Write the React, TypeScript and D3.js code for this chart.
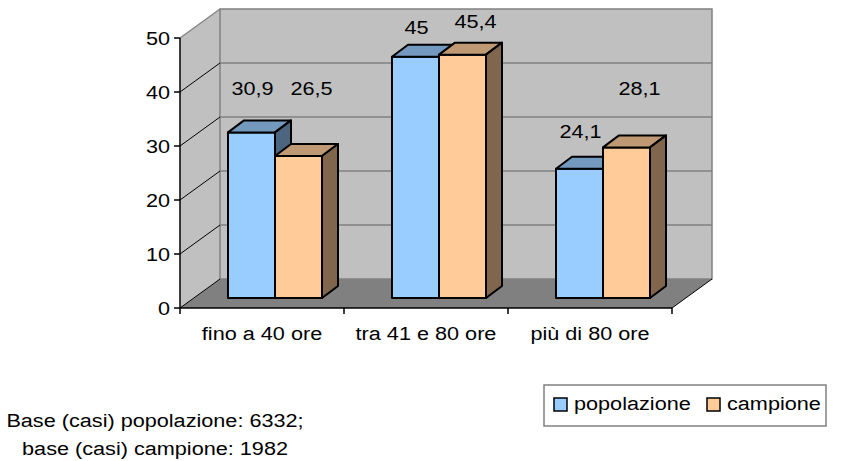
import React from "react";
import * as d3 from "d3";

const categories = ["fino a 40 ore", "tra 41 e 80 ore", "più di 80 ore"];
const seriesNames = ["popolazione", "campione"];
const popolazione = [30.9, 45, 24.1];
const campione = [26.5, 45.4, 28.1];
const labelTexts = [["30,9", "45", "24,1"], ["26,5", "45,4", "28,1"]];
// height (in axis units) at which the spreadsheet placed each data label
const labelLevelPop = [40.7, 51.9, 32.6];
const labelLevelCamp = [40.7, 53.0, 40.6];
const yTicks = [0, 10, 20, 30, 40, 50];
const footnote = ["Base (casi) popolazione: 6332;", "base (casi) campione: 1982"];

const W = 842, H = 461;
const FONT = "'Liberation Sans', Arial, sans-serif";
const FS = 19;
const SX = 1.14;

const fronts = ["#99CCFF", "#FFCC99"];
const tops = ["#7399BF", "#BF9973"];
const sides = ["#4C667F", "#7F664C"];

function T({ x, y, anchor = "middle", children, baseline }: any) {
  return (
    <text
      transform={`translate(${x},${y}) scale(${SX},1)`}
      textAnchor={anchor}
      dominantBaseline={baseline}
      fontFamily={FONT}
      fontSize={FS}
      fill="#000"
    >
      {children}
    </text>
  );
}

export default function App() {
  const left = 180, right = 672, floorY = 308, topY = 38;
  const dX = 40, dY = -29; // wall depth
  const y = d3.scaleLinear().domain([0, 50]).range([floorY, topY]);
  const x0 = d3.scaleBand().domain(categories).range([left, right]);
  const x1 = d3.scaleBand().domain(seriesNames).range([35, 129]);
  const ox = 13, oy = -10; // bar row depth
  const bdx = 16, bdy = -12; // bar depth
  const yBar = d3.scaleLinear().domain([0, 50]).range([floorY + oy, floorY + oy - 268]);
  const values = [popolazione, campione];
  const levels = [labelLevelPop, labelLevelCamp];
  const pts = (a: number[][]) => a.map((p) => p.join(",")).join(" ");

  return (
    <svg width={W} height={H} style={{ position: "absolute", left: 0, top: 0, background: "#fff" }}>
      {/* side wall */}
      <polygon points={pts([[left, topY], [left + dX, topY + dY], [left + dX, floorY + dY], [left, floorY]])} fill="#C0C0C0" />
      {/* back wall */}
      <rect x={left + dX} y={topY + dY} width={right - left} height={floorY - topY} fill="#C0C0C0" stroke="#808080" strokeWidth={1.5} />
      {/* gridlines */}
      {yTicks.slice(1, -1).map((t) => (
        <g key={t}>
          <line x1={left + dX} x2={right + dX} y1={y(t) + dY} y2={y(t) + dY} stroke="#808080" strokeWidth={1.5} />
          <line x1={left} x2={left + dX} y1={y(t)} y2={y(t) + dY} stroke="#000" strokeWidth={1} />
        </g>
      ))}
      <line x1={left} x2={left + dX} y1={topY} y2={topY + dY} stroke="#808080" strokeWidth={1.2} />
      {/* floor */}
      <polygon points={pts([[left, floorY], [right, floorY], [right + dX, floorY + dY], [left + dX, floorY + dY]])} fill="#808080" />
      <line x1={left} x2={left + dX} y1={floorY} y2={floorY + dY} stroke="#000" strokeWidth={1} />
      <line x1={right} x2={right + dX} y1={floorY} y2={floorY + dY} stroke="#000" strokeWidth={1} />
      {/* bars */}
      {categories.map((c, ci) => (
        <g key={c}>
          {seriesNames.map((s, si) => {
            const xa = (x0(c) as number) + (x1(s) as number) + ox;
            const w = x1.bandwidth();
            const yt = yBar(values[si][ci]);
            const yb = yBar(0);
            return (
              <g key={s} stroke="#000" strokeWidth={2} strokeLinejoin="round">
                <rect x={xa} y={yt} width={w} height={yb - yt} fill={fronts[si]} />
                <polygon points={pts([[xa, yt], [xa + bdx, yt + bdy], [xa + w + bdx, yt + bdy], [xa + w, yt]])} fill={tops[si]} />
                <polygon points={pts([[xa + w, yt], [xa + w + bdx, yt + bdy], [xa + w + bdx, yb + bdy], [xa + w, yb]])} fill={sides[si]} />
              </g>
            );
          })}
        </g>
      ))}
      {/* data labels */}
      {categories.map((c, ci) =>
        seriesNames.map((s, si) => {
          const xa = (x0(c) as number) + (x1(s) as number) + ox + x1.bandwidth() / 2 + (si === 0 ? 1 : 13);
          return (
            <T key={c + s} x={xa} y={y(levels[si][ci])} baseline="central">
              {labelTexts[si][ci]}
            </T>
          );
        })
      )}
      {/* axes */}
      <line x1={left} x2={left} y1={topY} y2={floorY} stroke="#000" strokeWidth={1.5} />
      <line x1={left} x2={right} y1={floorY} y2={floorY} stroke="#000" strokeWidth={1.5} />
      {yTicks.map((t) => (
        <g key={t}>
          <line x1={left - 6} x2={left} y1={y(t)} y2={y(t)} stroke="#000" strokeWidth={1.5} />
          <T x={left - 10} y={y(t)} anchor="end" baseline="central">{t}</T>
        </g>
      ))}
      {[...categories.map((c) => x0(c) as number), right].map((xv, i) => (
        <line key={i} x1={xv} x2={xv} y1={floorY} y2={floorY + 6} stroke="#000" strokeWidth={1.5} />
      ))}
      {categories.map((c) => (
        <T key={c} x={(x0(c) as number) + x0.bandwidth() / 2} y={340}>{c}</T>
      ))}
      {/* legend */}
      <rect x={544} y={385} width={282} height={41} fill="#fff" stroke="#808080" strokeWidth={1.5} />
      {seriesNames.map((s, si) => {
        const lx = si === 0 ? 554 : 707;
        return (
          <g key={s}>
            <rect x={lx} y={398} width={13} height={13} fill={fronts[si]} stroke="#000" strokeWidth={1.5} />
            <T x={lx + 20} y={410} anchor="start">{s}</T>
          </g>
        );
      })}
      {/* footnote */}
      {footnote.map((f, i) => (
        <T key={i} x={155} y={427 + i * 28}>{f}</T>
      ))}
    </svg>
  );
}
